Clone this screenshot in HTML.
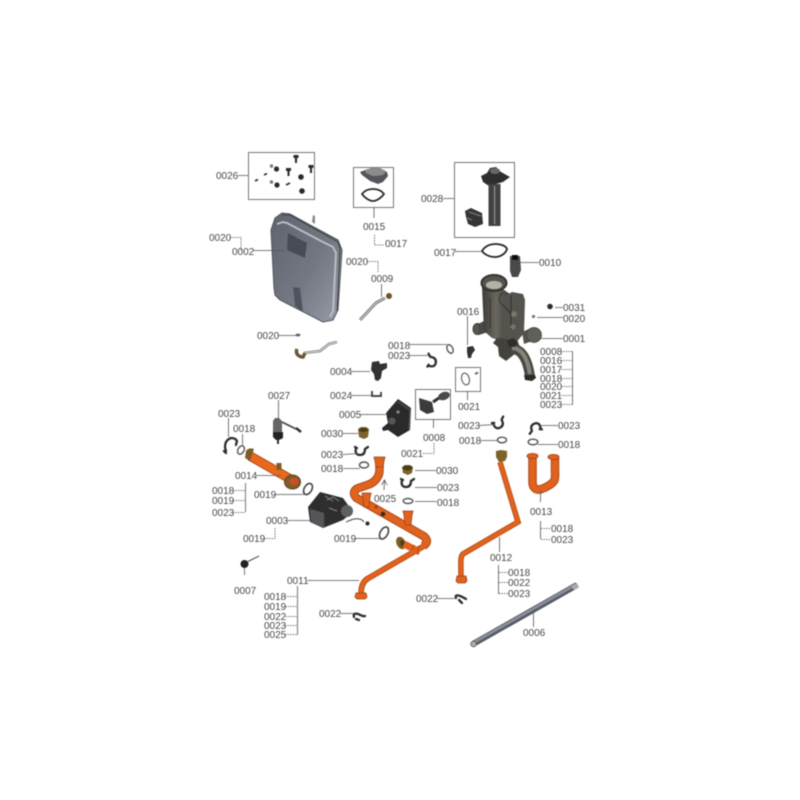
<!DOCTYPE html>
<html><head><meta charset="utf-8"><style>
html,body{margin:0;padding:0;background:#fff}
svg{display:block}
text{font-family:"Liberation Sans",sans-serif;font-size:10px;fill:#484848}
.l{fill:none;stroke:#555;stroke-width:.8}
.d{fill:none;stroke:#555;stroke-width:.8;stroke-dasharray:1.5 1}
.b{fill:none;stroke:#777;stroke-width:1}
.r{fill:none;stroke:#555;stroke-width:1.4}
.k{fill:none;stroke:#2e2e2e;stroke-width:2.300;stroke-linecap:round;stroke-linejoin:round}
.o1{fill:none;stroke:#a8481c}
.o2{fill:none;stroke:#e0621f}
.br{fill:#e0621f;stroke:#94401a;stroke-width:.8}
</style></head><body>
<svg width="800" height="800" viewBox="0 0 800 800" xmlns="http://www.w3.org/2000/svg">
<defs><filter id="s" x="-5%" y="-5%" width="110%" height="110%"><feGaussianBlur stdDeviation="0.45"/></filter>
<linearGradient id="tank" x1="0" y1="0" x2="1" y2="1"><stop offset="0" stop-color="#5f636e"/><stop offset=".55" stop-color="#747883"/><stop offset="1" stop-color="#9a9da6"/></linearGradient>
<linearGradient id="man" x1="0" y1="0" x2="1" y2="0"><stop offset="0" stop-color="#3c3a36"/><stop offset=".5" stop-color="#6a675f"/><stop offset="1" stop-color="#403e3a"/></linearGradient>
<path id="clip" class="k" d="M-6-3c-1 4 0 7 4 7s5-3 5-6M-7-4l2 1M3-2l3-2"/>
</defs>
<rect width="800" height="800" fill="#fff"/>

<g filter="url(#s)">
<rect class="b" x="248.500" y="152.500" width="66" height="47"/>
<rect class="b" x="353.500" y="167.500" width="40" height="40"/>
<rect class="b" x="454.500" y="162.500" width="60" height="75"/>
<rect class="b" x="455.500" y="367.500" width="25" height="24"/>
<rect class="b" x="415.500" y="389.500" width="35" height="30"/>

<!-- 0026 -->
<g fill="#2c2c2c">
<circle cx="276.500" cy="169" r="2.600"/><circle cx="277" cy="185" r="2.600"/><circle cx="301" cy="177" r="2.800"/><circle cx="302" cy="191" r="2.800"/>
<circle cx="271.500" cy="166" r="1.700" fill="#777"/><circle cx="271.500" cy="182" r="1.700" fill="#777"/>
<path d="M293.500 155h5v3h-1.500v5h-2v-5h-1.500zM308.500 165h5v3h-1.500v5h-2v-5h-1.500zM286 168h5v3h-1.500v5h-2v-5H286z"/>
<path d="M255 181l3-1.500M264 175l3-1.500M286 185l4-2" stroke="#333" stroke-width="1.800"/>
</g>

<!-- 0015 -->
<path d="M360 172l8-3h13l6 3 1 4-5 6-5 2-8-3-8-6z" fill="#55565a"/><path d="M365 170l6-2h9l6 3-3 4-10 1-7-3z" fill="#8b8c8e"/>
<path d="M362 194c3-4 7-5 11-5s8 1 11 5c-2 3-7 7-11 7s-9-4-11-7z" fill="none" stroke="#2a2a2a" stroke-width="1.800"/>

<!-- 0028 -->
<path d="M481 176l6-3 3-5 6-1 5 5 9 5-7 5-14 4-6-4z" fill="#2f2f2f"/>
<ellipse cx="495" cy="171" rx="5" ry="3" fill="#666"/>
<rect x="488.500" y="184" width="12" height="42" fill="#43433f"/>
<rect x="494" y="186" width="1.200" height="38" fill="#888"/>
<path d="M465 211l6-3 11 5 1 11-8 3-7-3-2-7z" fill="#363636"/><path d="M469 212l12 4M467 218l5 2" stroke="#777" stroke-width="1" fill="none"/>

<!-- 0002 tank -->
<path d="M312 222l1-7 2 1v8z" fill="#888"/>
<path d="M271 230l4-12 7-5 8 1 20 11 28 15 4 10-4 60-5 10-10 2-43-22-5-5-1-7z" fill="url(#tank)" stroke="#4e515a" stroke-width="1"/>
<path d="M277 224l6-2 4 1 34 18 12 6 3 6-3 58-3 6" fill="none" stroke="#bfc1c6" stroke-width="1.700"/>
<path d="M282 215l8 0 48 27 2 7-3 62" fill="none" stroke="#3f424a" stroke-width="1.100"/>
<path d="M288 233l19 10-2 15-18-8z" fill="#474b56"/>
<path d="M293 287l7 1 3 24-8-6z" fill="#4f535e"/>

<!-- 0009 hose -->
<path d="M360 320l16-17 9-5" fill="none" stroke="#6d6d6d" stroke-width="3"/><path d="M360 320l16-17 9-5" fill="none" stroke="#d0d0d0" stroke-width="1"/>
<circle cx="389" cy="296" r="3" fill="#6d5228"/>
<path d="M337 342l-8 2-9 7-16 2" fill="none" stroke="#6d6d6d" stroke-width="2.600"/><path d="M337 342l-8 2-9 7-16 2" fill="none" stroke="#ddd" stroke-width="1"/>
<path d="M297 349c-2 5 2 8 6 8l2-4" fill="none" stroke="#6d5530" stroke-width="3.500"/>
<ellipse cx="298" cy="335" rx="2.500" ry="1.500" fill="#666"/>

<!-- 0017, 0010 -->
<path d="M482 251c3-5 8-7 14-7 5 0 10 2 11 5-1 4-6 8-12 8s-11-3-13-6z" fill="none" stroke="#282828" stroke-width="1.800"/>
<path d="M510 256h10l1 14-3 7-6 0-2-6z" fill="#4a4a48"/><rect x="512" y="255" width="6" height="5" fill="#111"/>

<!-- 0001 manifold -->
<ellipse cx="477.500" cy="329" rx="4.500" ry="5.500" fill="#5a5751" stroke="#333" stroke-width="1"/>
<path d="M478 324l8-4 2 12-9 3z" fill="#4b4944"/>
<path d="M482 287l2 44 8 7 13 4 5-48-10-7z" fill="url(#man)"/>
<path d="M503 297l9-5 11 2 2 6-1 33-9 11-12 2-3-5z" fill="#55534d"/>
<path d="M497 338l20 2 4 9-15 12-7-5-1-9-5-4z" fill="#44423e"/>
<path d="M522 332l7-3 3 12-8 3z" fill="#56534d"/>
<circle cx="534" cy="335" r="7.500" fill="#615e58" stroke="#3d3b37" stroke-width=".7"/>
<path d="M512 349c9 0 15 8 18 27" fill="none" stroke="#4a4843" stroke-width="10"/>
<path d="M512 348c9 0 15 8 18 26" fill="none" stroke="#86837b" stroke-width="4"/>
<path d="M524 375h11l1 3-4 3-7-1z" fill="#2a2927"/>
<ellipse cx="494" cy="283" rx="12.500" ry="8" fill="#57544e" stroke="#33312e" stroke-width="2"/>
<ellipse cx="494" cy="285" rx="8" ry="4" fill="#b5b2a9"/>
<path d="M503 293c-5 2-5 10 2 14 5 4 6 8 6 10M511 295v35M490 298v30" fill="none" stroke="#2e2d2a" stroke-width="1"/>
<circle cx="514" cy="314" r="3" fill="#77746c"/><circle cx="513" cy="327" r="2.500" fill="#77746c"/>
<path d="M507 341l6-3 5 4-3 5-6 0z" fill="#2e2d2a"/>

<circle cx="550" cy="306.500" r="2.800" fill="#2e2e2e"/><circle cx="533.500" cy="316.500" r="1.600" fill="#777"/>
<path d="M467 347l6-1 2 4-3 4-1 4h-3l-1-6z" fill="#333"/>
<ellipse cx="465.500" cy="379" rx="3.800" ry="6" fill="none" stroke="#666" stroke-width="1.200" transform="rotate(-15 465.500 379)"/>
<path d="M475 374l3-1.500" stroke="#666" stroke-width="2"/>
<path d="M419 398l13 4 2 10-7 2-7-4z" fill="#3a3a3a"/><path d="M433 402l6-4" stroke="#333" stroke-width="3"/><ellipse cx="444" cy="396" rx="6" ry="4" fill="#494949" transform="rotate(-20 444 396)"/>
<path d="M372 362l7-1 1 3 7-1 0 5-5 3-1 7-3 3-3-1-1-6-3-4z" fill="#303030"/>
<path d="M372 391v5h9v-4" fill="none" stroke="#333" stroke-width="1.700"/>
<path d="M386 413l12-14 13 9-1 22-12 7-10-7-5 1-1-3 6-5z" fill="#2c2c2c"/><path d="M398 402l12 8-1 20" fill="none" stroke="#555" stroke-width="1"/><circle cx="392" cy="421" r="3.500" fill="#555"/><circle cx="398" cy="412" r="1.500" fill="#888"/>

<!-- 0030 -->
<path d="M358 429l3-2h5l3 2-1 8-4 2-5-2z" fill="#7d6229"/><ellipse cx="363.500" cy="430" rx="4.500" ry="2" fill="#4c3c18"/>
<path d="M402 467l3-2h5l3 2-1 6-4 2-5-2z" fill="#7d6229"/><ellipse cx="407.500" cy="468" rx="5" ry="2.500" fill="#4c3c18"/>

<!-- clips -->
<use href="#clip" transform="translate(432 360) rotate(-85)"/>
<path class="k" d="M226 451c-2-5-1-11 5-13 3 0 5 1 6 3 0 1-1 2-1 4M224 451l2 2"/>
<use href="#clip" transform="translate(362 451)"/>
<use href="#clip" transform="translate(500 423) rotate(-30)"/>
<use href="#clip" transform="translate(534 428) rotate(160)"/>
<use href="#clip" transform="translate(408 483)"/>

<!-- rings -->
<ellipse class="r" cx="450" cy="349" rx="2.800" ry="4.500" transform="rotate(-25 450 349)"/>
<ellipse class="r" cx="241" cy="450" rx="3" ry="4.500" transform="rotate(30 241 450)"/>
<ellipse class="r" cx="364" cy="465" rx="4.500" ry="3"/>
<ellipse class="r" cx="502" cy="440" rx="4.500" ry="2.800"/>
<ellipse class="r" cx="533" cy="442" rx="4.800" ry="2.800"/>
<ellipse class="r" cx="408" cy="501" rx="4.800" ry="2.500"/>
<ellipse cx="308" cy="489" rx="3.800" ry="6" fill="none" stroke="#444" stroke-width="1.600" transform="rotate(30 308 489)"/>
<ellipse cx="384" cy="533" rx="3.800" ry="6.500" fill="none" stroke="#444" stroke-width="1.600" transform="rotate(28 384 533)"/>

<!-- 0027 -->
<path d="M275 418l4 0 3 3v13h-9v-13z" fill="#666"/><path d="M273 432h10l0 6-4 2h-3l-3-3z" fill="#222"/><rect x="277" y="439" width="2" height="5" fill="#333"/>
<path d="M282 422l14 7" stroke="#444" stroke-width="1.600"/><path d="M296 428l5 4" stroke="#333" stroke-width="2.500"/>

<!-- 0014 -->
<path d="M250 456l42 24" fill="none" stroke="#a8481c" stroke-width="9.500"/>
<path d="M250 456l42 24" fill="none" stroke="#ea681f" stroke-width="7.500"/>
<path d="M246 451c2-3 5-3 8-2l-4 12-5-3z" fill="#7b5d28"/>
<path d="M279 470v-7" stroke="#7b5d28" stroke-width="5"/>
<ellipse cx="292.500" cy="482" rx="8" ry="7" fill="#7b5d28" stroke="#5e461e" stroke-width="1"/><ellipse cx="294" cy="481.500" rx="4.500" ry="3.800" fill="#c9502a"/>

<!-- 0003 pump -->
<path d="M308 507l12-15 23 6 10 14-10 8-20 8-13-6z" fill="#2f2f2f"/>
<path d="M310 509l14 4 0 15-13-6z" fill="#55565a"/>
<circle cx="347" cy="511" r="6" fill="#5e5e60"/>
<path d="M327 500l6-3 6 4M329 508l8 3M325 496l8 5" stroke="#777" stroke-width="1" fill="none"/>
<path d="M346 522c5-2 9-4 13-3 3 0 4 2 5 3" fill="none" stroke="#444" stroke-width="1"/><circle cx="367.500" cy="523.500" r="2" fill="#2a2a2a"/>

<!-- 0011 -->
<path class="o1" stroke-width="8.500" d="M379.500 460v10c0 8-6 13-12 15l-9 3c-5 2-6 6-2 10l67 38c5 4 4 7 0 10"/>
<path class="o2" stroke-width="6.500" d="M379.500 460v10c0 8-6 13-12 15l-9 3c-5 2-6 6-2 10l67 38c5 4 4 7 0 10"/>
<path class="o1" stroke-width="5.800" d="M424 546l-57 33c-4 3-6 7-6 16"/>
<path class="o2" stroke-width="4.300" d="M424 546l-57 33c-4 3-6 7-6 16"/>
<path class="br" d="M374 457h11l-1 4-1 6h-7l-1-6z"/>
<path class="br" d="M356 593h10l1 4-2 2h-8l-2-2z"/>
<path class="br" d="M362 493h9l-1 5-1 9-5 0-1-9z"/>
<path class="br" d="M403 511h10l-1 4-1 10-6 0-1-10z"/>
<circle cx="383" cy="514" r="2.400" fill="#352a22"/><circle cx="376" cy="507" r="1.400" fill="#8d3e18"/>
<ellipse cx="401" cy="543" rx="4.500" ry="6.500" fill="#7b5d28" transform="rotate(-25 401 543)"/><ellipse cx="403" cy="544" rx="2.500" ry="4" fill="#4f3c18" transform="rotate(-25 403 544)"/>
<path d="M404 544l16 8" stroke="#e0621f" stroke-width="7"/>
<path d="M412 550l2-5M419 546l-2 8" stroke="#a8481c" stroke-width="1" fill="none"/>

<!-- 0012 -->
<path class="o1" stroke-width="5.500" d="M500 462l18 60-55 32c-3 3-2 8-2 25"/>
<path class="o2" stroke-width="4" d="M500 462l18 60-55 32c-3 3-2 8-2 25"/>
<path d="M496 451l5-1 6 1 0 6-2 4-6 1-3-5z" fill="#7d6229"/>
<path class="br" d="M457 576h9l1 5-2 2h-7l-2-2z"/>

<!-- 0013 -->
<path class="o1" stroke-width="8.500" d="M532.500 458v24c0 6 4 9 9 7 6-2 12-6 13-9 1-3 .5-6 .5-10v-12"/>
<path class="o2" stroke-width="6.500" d="M532.500 458v24c0 6 4 9 9 7 6-2 12-6 13-9 1-3 .5-6 .5-10v-12"/>
<ellipse class="br" cx="532.500" cy="456" rx="5.500" ry="2.600"/>
<ellipse class="br" cx="553.500" cy="457" rx="5.500" ry="2.600"/>

<!-- 0007 -->
<circle cx="244.500" cy="564" r="4" fill="#222"/><path d="M247 562l12-6" stroke="#555" stroke-width="1.200"/>

<!-- 0022 -->
<path class="k" d="M354 617c-1-3 1-4 4-3 3 1 5 3 7 2M356 619l3 1"/>
<path class="k" d="M456 598c-1-3 1-3 4-2 3 1 4 2 6 3M459 600l3 3"/>

<!-- 0006 -->
<path d="M473 644l104-59" stroke="#555a66" stroke-width="6"/>
<path d="M473 643l104-59" stroke="#8b8f9a" stroke-width="2.500"/>
<circle cx="473.500" cy="644" r="2.800" fill="#aaa" stroke="#555" stroke-width=".8"/>
<path d="M571 586l6-3 2 4-5 3z" fill="#aaa"/>

<!-- leaders -->
<path class="l" d="M238 175.500h10M374 207v11M443 198.500h11M253 250.500h31M455 251.500h27M520 262.500h19M555 307.500h8M537 317.500h26M540 338.500h23M467.500 316v29M409 344.500h38M409 355.500h20M467.500 391v9M433.500 419v9M278.500 400v20M228.500 418v19M242.500 434v11M256 475.500h25M275 494.500h29M287 520.500h23M343 433.500h15M360 414.500h26M351 395.500h21M351 371.500h19M343 454.500l15-1M343 468.500h17M355 538.500h25M244.500 575v-7M307 580.500h52M340 613.500h14M499.500 537v15M437 598.500h19M533.500 610v17M540.500 490v12M479 425.500l16-1M540 425.500h18M480 440.500h17M538 444.500h20M415 470.500h21M415 487.500h22M415 501.500h22M296 335.500h-18M381.500 284v13M384 490l.5-9M381.500 485l3-5 2.500 5"/>
<path class="d" d="M230 237.500h11v13M367 261.500h11v11M374.500 235v10h10M423 453.500h11v-11M264 538.500h11v-11"/>
<path class="l" d="M572.500 351v54M245.500 483v29M297.500 586v49M540.500 521v18M498.500 565v29"/>
<path class="d" d="M561 351.500h11M561 360.500h11M561 369.500h11M561 378.500h11M561 386.500h11M561 395.500h11M561 404.500h11M233 490.500h12M233 500.500h12M233 512.500h12M285 596.500h12M285 606.500h12M285 616.500h12M285 625.500h12M285 634.500h12M541 528.500h10M541 539.500h10M499 572.500h9M499 582.500h9M499 593.500h9"/>
</g>

<!-- labels -->
<g filter="url(#s)">
<text x="216" y="179">0026</text><text x="363" y="230">0015</text><text x="385" y="247">0017</text>
<text x="209" y="241">0020</text><text x="232" y="255">0002</text><text x="346" y="265">0020</text><text x="371" y="282">0009</text>
<text x="257" y="339">0020</text><text x="421" y="202">0028</text><text x="434" y="256">0017</text><text x="539" y="266">0010</text>
<text x="563" y="311">0031</text><text x="563" y="322">0020</text><text x="563" y="342">0001</text><text x="457" y="315">0016</text>
<text x="388" y="349">0018</text><text x="388" y="359">0023</text>
<text x="540" y="355">0008</text><text x="540" y="364">0016</text><text x="540" y="373">0017</text><text x="540" y="382">0018</text><text x="540" y="390">0020</text><text x="540" y="399">0021</text><text x="540" y="408">0023</text>
<text x="458" y="410">0021</text><text x="423" y="441">0008</text><text x="401" y="457">0021</text>
<text x="458" y="429">0023</text><text x="558" y="429">0023</text><text x="459" y="444">0018</text><text x="558" y="448">0018</text>
<text x="436" y="474">0030</text><text x="437" y="491">0023</text><text x="437" y="506">0018</text>
<text x="530" y="515">0013</text><text x="551" y="532">0018</text><text x="551" y="543">0023</text>
<text x="268" y="399">0027</text><text x="218" y="417">0023</text><text x="233" y="432">0018</text><text x="235" y="479">0014</text>
<text x="212" y="494">0018</text><text x="212" y="504">0019</text><text x="212" y="516">0023</text>
<text x="254" y="498">0019</text><text x="266" y="524">0003</text><text x="243" y="542">0019</text>
<text x="321" y="437">0030</text><text x="339" y="418">0005</text><text x="330" y="399">0024</text><text x="330" y="375">0004</text>
<text x="321" y="458">0023</text><text x="321" y="472">0018</text><text x="374" y="502">0025</text><text x="334" y="542">0019</text>
<text x="234" y="594">0007</text><text x="287" y="584">0011</text>
<text x="264" y="600">0018</text><text x="264" y="610">0019</text><text x="264" y="620">0022</text><text x="264" y="629">0023</text><text x="264" y="638">0025</text>
<text x="319" y="617">0022</text><text x="490" y="561">0012</text><text x="508" y="576">0018</text><text x="508" y="586">0022</text><text x="508" y="597">0023</text>
<text x="416" y="602">0022</text><text x="523" y="636">0006</text>
</g>
</svg>
</body></html>
